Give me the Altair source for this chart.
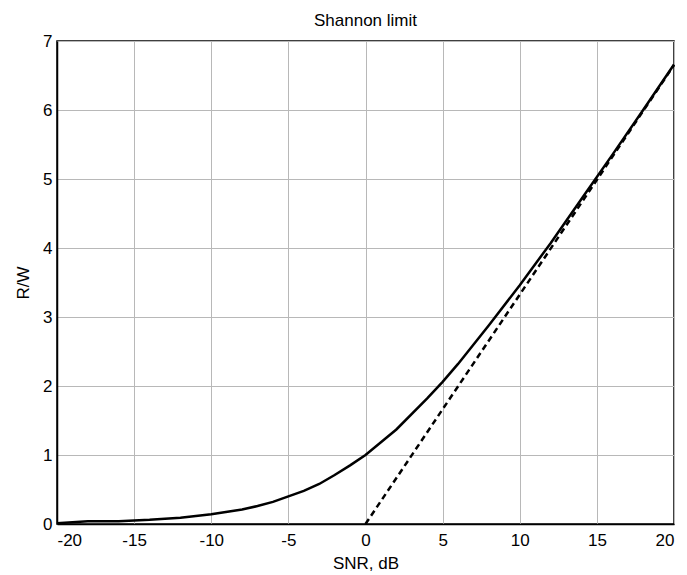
import altair as alt
import pandas as pd

# Shannon capacity curve
snr_db = [-20, -18, -16, -14, -12, -10, -8, -7, -6, -5, -4, -3, -2, -1, 0,
          2, 4, 5, 6, 8, 10, 12, 14, 16, 18, 20]
rate = [0.01, 0.04, 0.04, 0.06, 0.09, 0.14, 0.21, 0.26, 0.32, 0.40, 0.48, 0.58,
        0.71, 0.85, 1.0, 1.37, 1.82, 2.06, 2.32, 2.88, 3.46, 4.07, 4.71, 5.35,
        6.00, 6.66]

# High-SNR asymptote (dashed)
asym_db = [0, 20]
asym_rate = [0.0, 6.65]

x_ticks = [-20, -15, -10, -5, 0, 5, 10, 15, 20]
y_ticks = [0, 1, 2, 3, 4, 5, 6, 7]

FONT = "Liberation Sans"
HYPHEN = "datum.value < 0 ? '-' + abs(datum.value) : '' + datum.value"

df1 = pd.DataFrame({"snr": snr_db, "rw": rate})
df2 = pd.DataFrame({"snr": asym_db, "rw": asym_rate})

xs = alt.Scale(domain=[-20, 20], nice=False, zero=False)
ys = alt.Scale(domain=[0, 7], nice=False)

x_axis = alt.Axis(values=x_ticks, labelExpr=HYPHEN, title="SNR, dB",
                  grid=True, ticks=False, labelPadding=8, titleY=39,
                  titleBaseline="middle")
y_axis = alt.Axis(values=y_ticks, labelExpr=HYPHEN, title="R/W", grid=True,
                  ticks=False, labelPadding=5, titleX=-34, titleY=241.5,
                  titleBaseline="middle", titleAlign="center")

solid = alt.Chart(df1).mark_line(color="black", strokeWidth=2.5).encode(
    x=alt.X("snr:Q", scale=xs, axis=x_axis),
    y=alt.Y("rw:Q", scale=ys, axis=y_axis),
)
dashed = alt.Chart(df2).mark_line(color="black", strokeWidth=2.5,
                                  strokeDash=[6, 4]).encode(
    x=alt.X("snr:Q", scale=xs),
    y=alt.Y("rw:Q", scale=ys),
)

chart = alt.layer(solid, dashed).properties(
    width=617, height=483,
    title=alt.TitleParams("Shannon limit", fontSize=17, font=FONT,
                          fontWeight="normal", anchor="middle", offset=11,
                          dy=9, frame="group", color="black"),
    autosize=alt.AutoSizeParams(type="none"),
    padding={"left": 49, "top": 33, "right": 5, "bottom": 49},
).configure_view(
    stroke="black", strokeWidth=1.5
).configure_axis(
    labelFont=FONT, titleFont=FONT, labelFontSize=17, titleFontSize=17,
    titleFontWeight="normal", labelColor="black", titleColor="black",
    domainColor="black", domainWidth=1.5, gridColor="#b8b8b8",
    gridWidth=1, gridOpacity=1
)

chart.save("out.html", embed_options={"renderer": "svg", "actions": False})
